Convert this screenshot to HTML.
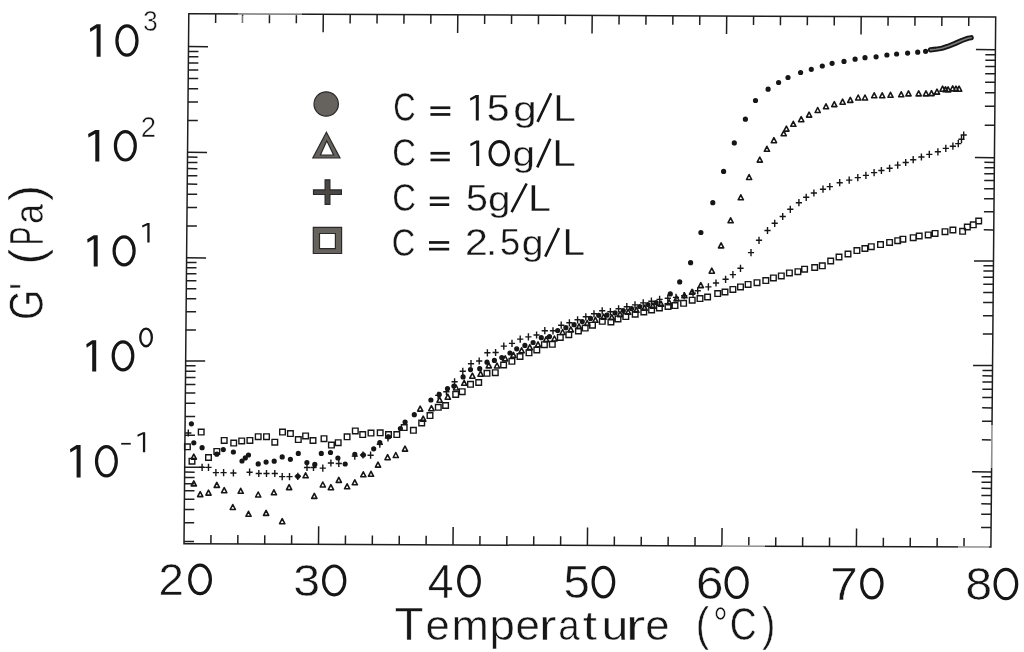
<!DOCTYPE html>
<html><head><meta charset="utf-8"><style>
html,body{margin:0;padding:0;background:#fff;width:1024px;height:652px;overflow:hidden}
svg{display:block;filter:blur(0.35px)}
text{font-family:"Liberation Sans",sans-serif}
</style></head><body>
<svg width="1024" height="652" viewBox="0 0 1024 652">
<rect width="1024" height="652" fill="#fff"/>
<g transform="matrix(1 0.00409 -0.00906 1 188.8 13.8)" stroke="#1e1e1e" stroke-width="1.5" fill="none" stroke-linecap="butt">
<rect x="0" y="0" width="806.9" height="530.0"/>
<path d="M0 527.7H10M0 509.0H10M806.9 510.4H796.9M0 495.7H10M806.9 497.1H796.9M0 485.4H10M806.9 486.8H796.9M0 477.0H10M806.9 478.4H796.9M0 469.9H10M806.9 471.3H796.9M0 463.7H10M806.9 465.1H796.9M0 458.3H10M806.9 459.7H796.9M0 453.4H19.5M806.9 454.8H787.4M0 421.4H10M806.9 422.8H796.9M0 402.7H10M806.9 404.1H796.9M0 389.4H10M806.9 390.8H796.9M0 379.1H10M806.9 380.5H796.9M0 370.7H10M806.9 372.1H796.9M0 363.6H10M806.9 365.0H796.9M0 357.4H10M806.9 358.8H796.9M0 352.0H10M806.9 353.4H796.9M0 347.1H19.5M806.9 348.5H787.4M0 316.1H10M806.9 317.0H796.9M0 297.9H10M806.9 298.6H796.9M0 285.0H10M806.9 285.5H796.9M0 275.0H10M806.9 275.4H796.9M0 266.9H10M806.9 267.1H796.9M0 260.0H10M806.9 260.1H796.9M0 254.0H10M806.9 254.0H796.9M0 248.7H10M806.9 248.7H796.9M0 244.0H19.5M806.9 243.9H787.4M0 212.2H10M806.9 212.8H796.9M0 193.7H10M806.9 194.6H796.9M0 180.5H10M806.9 181.7H796.9M0 170.3H10M806.9 171.7H796.9M0 161.9H10M806.9 163.5H796.9M0 154.8H10M806.9 156.6H796.9M0 148.7H10M806.9 150.6H796.9M0 143.3H10M806.9 145.3H796.9M0 138.5H19.5M806.9 140.6H787.4M0 106.7H10M806.9 108.1H796.9M0 88.1H10M806.9 89.1H796.9M0 74.9H10M806.9 75.6H796.9M0 64.6H10M806.9 65.1H796.9M0 56.2H10M806.9 56.6H796.9M0 49.2H10M806.9 49.4H796.9M0 43.0H10M806.9 43.1H796.9M0 37.6H10M806.9 37.6H796.9M0 32.8H19.5M806.9 32.6H787.4M26.9 530.0V521.0M26.9 0V9M53.8 530.0V521.0M53.8 0V9M80.7 530.0V521.0M80.7 0V9M107.6 530.0V521.0M107.6 0V9M134.5 530.0V512.0M134.5 0V18M161.4 530.0V521.0M161.4 0V9M188.3 530.0V521.0M188.3 0V9M215.2 530.0V521.0M215.2 0V9M242.1 530.0V521.0M242.1 0V9M269.0 530.0V512.0M269.0 0V18M295.9 530.0V521.0M295.9 0V9M322.8 530.0V521.0M322.8 0V9M349.7 530.0V521.0M349.7 0V9M376.6 530.0V521.0M376.6 0V9M403.4 530.0V512.0M403.4 0V18M430.3 530.0V521.0M430.3 0V9M457.2 530.0V521.0M457.2 0V9M484.1 530.0V521.0M484.1 0V9M511.0 530.0V521.0M511.0 0V9M537.9 530.0V512.0M537.9 0V18M564.8 530.0V521.0M564.8 0V9M591.7 530.0V521.0M591.7 0V9M618.6 530.0V521.0M618.6 0V9M645.5 530.0V521.0M645.5 0V9M672.4 530.0V512.0M672.4 0V18M699.3 530.0V521.0M699.3 0V9M726.2 530.0V521.0M726.2 0V9M753.1 530.0V521.0M753.1 0V9M780.0 530.0V521.0M780.0 0V9" stroke-width="1.5"/>
</g>
<path d="M238 14.0L302 14.3" stroke="#fff" stroke-opacity="0.4" stroke-width="2.4"/>
<path d="M243.2 16L243.2 23" stroke="#fff" stroke-opacity="0.5" stroke-width="2"/>
<path d="M722 546.03L765 546.2M958 547.06L989 547.2M992.0 425L991.6 468" stroke="#fff" stroke-opacity="0.5" stroke-width="2.2"/>
<path d="M184.6 444.0h5.6v5.6h-5.6zM189.2 458.4h5.6v5.6h-5.6zM198.4 429.3h5.6v5.6h-5.6zM205.7 454.7h5.6v5.6h-5.6zM214.0 448.6h5.6v5.6h-5.6zM221.4 437.6h5.6v5.6h-5.6zM230.9 440.3h5.6v5.6h-5.6zM238.9 438.1h5.6v5.6h-5.6zM247.1 437.6h5.6v5.6h-5.6zM255.4 433.9h5.6v5.6h-5.6zM263.7 433.9h5.6v5.6h-5.6zM272.0 439.4h5.6v5.6h-5.6zM279.7 429.3h5.6v5.6h-5.6zM287.6 430.8h5.6v5.6h-5.6zM295.5 436.8h5.6v5.6h-5.6zM302.8 433.1h5.6v5.6h-5.6zM310.2 437.7h5.6v5.6h-5.6zM321.2 435.9h5.6v5.6h-5.6zM328.6 442.3h5.6v5.6h-5.6zM335.4 439.9h5.6v5.6h-5.6zM344.3 434.0h5.6v5.6h-5.6zM352.5 428.1h5.6v5.6h-5.6zM359.9 431.8h5.6v5.6h-5.6zM368.2 430.3h5.6v5.6h-5.6zM377.4 430.0h5.6v5.6h-5.6zM385.7 431.8h5.6v5.6h-5.6zM394.0 431.8h5.6v5.6h-5.6zM401.4 424.8h5.6v5.6h-5.6zM410.6 427.5h5.6v5.6h-5.6zM418.9 420.2h5.6v5.6h-5.6zM427.2 412.8h5.6v5.6h-5.6zM435.5 404.5h5.6v5.6h-5.6zM442.8 402.7h5.6v5.6h-5.6zM452.9 391.6h5.6v5.6h-5.6zM459.4 388.9h5.6v5.6h-5.6zM467.7 381.5h5.6v5.6h-5.6zM475.9 379.7h5.6v5.6h-5.6zM484.2 370.5h5.6v5.6h-5.6zM492.5 369.9h5.6v5.6h-5.6zM500.8 362.2h5.6v5.6h-5.6zM509.1 358.5h5.6v5.6h-5.6zM517.2 353.7h5.6v5.6h-5.6zM526.2 350.0h5.6v5.6h-5.6zM534.0 347.2h5.6v5.6h-5.6zM541.6 341.9h5.6v5.6h-5.6zM549.5 341.5h5.6v5.6h-5.6zM557.5 334.6h5.6v5.6h-5.6zM566.0 331.9h5.6v5.6h-5.6zM575.6 328.1h5.6v5.6h-5.6zM582.4 325.3h5.6v5.6h-5.6zM589.7 322.4h5.6v5.6h-5.6zM599.5 318.5h5.6v5.6h-5.6zM608.1 319.2h5.6v5.6h-5.6zM615.2 316.1h5.6v5.6h-5.6zM623.0 313.8h5.6v5.6h-5.6zM632.4 311.4h5.6v5.6h-5.6zM641.0 309.1h5.6v5.6h-5.6zM648.8 307.2h5.6v5.6h-5.6zM656.6 305.2h5.6v5.6h-5.6zM665.2 303.6h5.6v5.6h-5.6zM672.2 302.8h5.6v5.6h-5.6zM680.8 300.5h5.6v5.6h-5.6zM689.4 297.4h5.6v5.6h-5.6zM697.2 295.8h5.6v5.6h-5.6zM704.8 294.2h5.6v5.6h-5.6zM714.9 290.8h5.6v5.6h-5.6zM722.2 289.2h5.6v5.6h-5.6zM730.1 286.6h5.6v5.6h-5.6zM737.7 284.1h5.6v5.6h-5.6zM745.3 281.6h5.6v5.6h-5.6zM754.2 279.9h5.6v5.6h-5.6zM763.0 277.8h5.6v5.6h-5.6zM770.6 275.1h5.6v5.6h-5.6zM778.5 273.1h5.6v5.6h-5.6zM786.6 270.1h5.6v5.6h-5.6zM795.1 268.9h5.6v5.6h-5.6zM801.8 266.4h5.6v5.6h-5.6zM811.9 264.7h5.6v5.6h-5.6zM819.5 263.0h5.6v5.6h-5.6zM827.9 258.2h5.6v5.6h-5.6zM836.2 254.2h5.6v5.6h-5.6zM845.2 251.2h5.6v5.6h-5.6zM854.1 247.8h5.6v5.6h-5.6zM862.1 245.7h5.6v5.6h-5.6zM868.5 243.9h5.6v5.6h-5.6zM877.7 241.8h5.6v5.6h-5.6zM886.8 239.6h5.6v5.6h-5.6zM894.9 237.9h5.6v5.6h-5.6zM900.1 236.4h5.6v5.6h-5.6zM910.4 234.9h5.6v5.6h-5.6zM916.4 233.2h5.6v5.6h-5.6zM925.4 232.1h5.6v5.6h-5.6zM932.3 230.6h5.6v5.6h-5.6zM942.2 228.9h5.6v5.6h-5.6zM950.1 227.2h5.6v5.6h-5.6zM959.8 228.5h5.6v5.6h-5.6zM964.5 224.2h5.6v5.6h-5.6zM970.5 222.0h5.6v5.6h-5.6zM975.9 218.2h5.6v5.6h-5.6z" fill="none" stroke="#161616" stroke-width="1.4"/>
<path d="M193.8 454.1l2.6 5.0h-5.2zM193.8 480.9l2.6 5.0h-5.2zM200.2 491.6l2.6 5.0h-5.2zM208.5 490.1l2.6 5.0h-5.2zM216.8 482.4l2.6 5.0h-5.2zM224.2 487.7l2.6 5.0h-5.2zM232.8 504.5l2.6 5.0h-5.2zM240.7 488.3l2.6 5.0h-5.2zM248.5 511.3l2.6 5.0h-5.2zM258.2 492.0l2.6 5.0h-5.2zM266.1 510.4l2.6 5.0h-5.2zM273.9 489.8l2.6 5.0h-5.2zM282.2 518.7l2.6 5.0h-5.2zM289.1 484.6l2.6 5.0h-5.2zM305.6 472.8l2.6 5.0h-5.2zM314.3 493.4l2.6 5.0h-5.2zM322.8 482.0l2.6 5.0h-5.2zM330.9 484.7l2.6 5.0h-5.2zM338.8 477.4l2.6 5.0h-5.2zM347.1 483.8l2.6 5.0h-5.2zM354.8 479.8l2.6 5.0h-5.2zM363.3 471.8l2.6 5.0h-5.2zM371.0 471.3l2.6 5.0h-5.2zM378.0 462.1l2.6 5.0h-5.2zM387.6 454.7l2.6 5.0h-5.2zM395.8 452.5l2.6 5.0h-5.2zM405.0 446.1l2.6 5.0h-5.2zM420.2 406.1l2.6 5.0h-5.2zM423.2 416.2l2.6 5.0h-5.2zM431.4 405.7l2.6 5.0h-5.2zM439.6 397.2l2.6 5.0h-5.2zM447.8 394.2l2.6 5.0h-5.2zM456.0 385.0l2.6 5.0h-5.2zM464.2 380.3l2.6 5.0h-5.2zM472.4 373.2l2.6 5.0h-5.2zM480.6 371.2l2.6 5.0h-5.2zM488.8 362.9l2.6 5.0h-5.2zM497.0 363.0l2.6 5.0h-5.2zM505.2 355.9l2.6 5.0h-5.2zM513.4 352.4l2.6 5.0h-5.2zM521.6 347.8l2.6 5.0h-5.2zM529.8 344.6l2.6 5.0h-5.2zM538.0 341.9l2.6 5.0h-5.2zM546.2 336.6l2.6 5.0h-5.2zM554.4 336.0l2.6 5.0h-5.2zM562.6 329.5l2.6 5.0h-5.2zM570.8 326.9l2.6 5.0h-5.2zM579.0 323.8l2.6 5.0h-5.2zM587.2 320.5l2.6 5.0h-5.2zM595.4 317.3l2.6 5.0h-5.2zM603.6 314.1l2.6 5.0h-5.2zM611.8 314.7l2.6 5.0h-5.2zM620.0 311.6l2.6 5.0h-5.2zM628.2 309.3l2.6 5.0h-5.2zM636.4 307.3l2.6 5.0h-5.2zM644.6 305.2l2.6 5.0h-5.2zM652.8 303.2l2.6 5.0h-5.2zM661.0 301.2l2.6 5.0h-5.2zM669.2 299.8l2.6 5.0h-5.2zM676.6 295.9l2.6 5.0h-5.2zM684.4 292.8l2.6 5.0h-5.2zM692.0 289.3l2.6 5.0h-5.2zM700.8 282.6l2.6 5.0h-5.2zM711.8 268.2l2.6 5.0h-5.2zM721.1 242.9l2.6 5.0h-5.2zM730.6 217.8l2.6 5.0h-5.2zM740.8 194.8l2.6 5.0h-5.2zM749.1 174.5l2.6 5.0h-5.2zM759.8 157.1l2.6 5.0h-5.2zM766.9 146.3l2.6 5.0h-5.2zM773.9 137.7l2.6 5.0h-5.2zM783.7 130.8l2.6 5.0h-5.2zM786.4 126.1l2.6 5.0h-5.2zM793.3 121.3l2.6 5.0h-5.2zM801.2 116.7l2.6 5.0h-5.2zM809.1 112.1l2.6 5.0h-5.2zM817.7 107.5l2.6 5.0h-5.2zM826.0 103.8l2.6 5.0h-5.2zM834.3 101.6l2.6 5.0h-5.2zM842.6 99.2l2.6 5.0h-5.2zM850.3 97.4l2.6 5.0h-5.2zM858.2 95.0l2.6 5.0h-5.2zM865.0 95.0l2.6 5.0h-5.2zM874.2 92.8l2.6 5.0h-5.2zM882.2 92.8l2.6 5.0h-5.2zM890.5 92.3l2.6 5.0h-5.2zM901.2 91.8l2.6 5.0h-5.2zM908.5 90.9l2.6 5.0h-5.2zM918.7 90.9l2.6 5.0h-5.2zM926.0 90.9l2.6 5.0h-5.2zM931.5 90.6l2.6 5.0h-5.2zM937.0 89.1l2.6 5.0h-5.2zM942.6 86.2l2.6 5.0h-5.2zM945.5 86.8l2.6 5.0h-5.2zM948.1 86.9l2.6 5.0h-5.2zM952.7 85.9l2.6 5.0h-5.2zM956.0 86.1l2.6 5.0h-5.2zM959.1 86.2l2.6 5.0h-5.2z" fill="none" stroke="#161616" stroke-width="1.6" stroke-linejoin="round"/>
<path d="M185.2 433.0h6.2M188.3 429.4v7.2M199.0 467.4h6.2M202.1 463.8v7.2M205.4 467.4h6.2M208.5 463.8v7.2M212.8 472.6h6.2M215.9 469.0v7.2M220.5 472.6h6.2M223.6 469.0v7.2M230.3 473.0h6.2M233.4 469.4v7.2M246.5 472.2h6.2M249.6 468.6v7.2M255.7 473.5h6.2M258.8 469.9v7.2M263.4 473.5h6.2M266.5 469.9v7.2M271.7 473.5h6.2M274.8 469.9v7.2M279.1 476.6h6.2M282.2 473.0v7.2M286.4 476.6h6.2M289.5 473.0v7.2M294.7 476.3h6.2M297.8 472.7v7.2M303.9 467.5h6.2M307.0 463.9v7.2M310.4 467.5h6.2M313.5 463.9v7.2M319.7 468.1h6.2M322.8 464.5v7.2M327.8 463.0h6.2M330.9 459.4v7.2M335.7 463.5h6.2M338.8 459.9v7.2M351.7 456.1h6.2M354.8 452.5v7.2M359.9 455.0h6.2M363.0 451.4v7.2M367.5 455.2h6.2M370.6 451.6v7.2M376.7 444.2h6.2M379.8 440.6v7.2M384.9 438.0h6.2M388.0 434.4v7.2M435.1 395.4h6.2M438.2 391.8v7.2M443.3 391.7h6.2M446.4 388.1v7.2M451.5 381.8h6.2M454.6 378.2v7.2M459.7 371.3h6.2M462.8 367.7v7.2M467.9 363.7h6.2M471.0 360.1v7.2M476.1 361.0h6.2M479.2 357.4v7.2M484.3 352.8h6.2M487.4 349.2v7.2M492.5 352.5h6.2M495.6 348.9v7.2M500.7 346.1h6.2M503.8 342.5v7.2M508.9 343.4h6.2M512.0 339.8v7.2M517.1 339.1h6.2M520.2 335.5v7.2M525.3 336.9h6.2M528.4 333.3v7.2M533.5 335.0h6.2M536.6 331.4v7.2M541.7 330.7h6.2M544.8 327.1v7.2M549.9 330.8h6.2M553.0 327.2v7.2M558.1 325.2h6.2M561.2 321.6v7.2M566.3 322.8h6.2M569.4 319.2v7.2M574.5 319.8h6.2M577.6 316.2v7.2M582.7 316.8h6.2M585.8 313.2v7.2M590.9 313.8h6.2M594.0 310.2v7.2M599.1 310.8h6.2M602.2 307.2v7.2M607.3 311.7h6.2M610.4 308.1v7.2M615.5 308.8h6.2M618.6 305.2v7.2M623.7 306.7h6.2M626.8 303.1v7.2M631.9 304.9h6.2M635.0 301.3v7.2M640.1 302.9h6.2M643.2 299.3v7.2M648.3 301.2h6.2M651.4 297.6v7.2M656.5 299.4h6.2M659.6 295.8v7.2M664.7 298.2h6.2M667.8 294.6v7.2M672.9 297.4h6.2M676.0 293.8v7.2M681.1 295.7h6.2M684.2 292.1v7.2M689.9 293.1h6.2M693.0 289.5v7.2M694.6 290.8h6.2M697.7 287.2v7.2M705.3 286.9h6.2M708.4 283.3v7.2M712.9 283.0h6.2M716.0 279.4v7.2M722.5 279.3h6.2M725.6 275.7v7.2M729.8 274.6h6.2M732.9 271.0v7.2M737.4 268.3h6.2M740.5 264.7v7.2M747.9 252.6h6.2M751.0 249.0v7.2M755.9 240.3h6.2M759.0 236.7v7.2M764.4 230.5h6.2M767.5 226.9v7.2M771.6 223.3h6.2M774.7 219.7v7.2M779.6 216.5h6.2M782.7 212.9v7.2M787.2 209.3h6.2M790.3 205.7v7.2M795.8 202.7h6.2M798.9 199.1v7.2M803.1 197.3h6.2M806.2 193.7v7.2M810.8 193.0h6.2M813.9 189.4v7.2M819.9 189.2h6.2M823.0 185.6v7.2M826.7 186.6h6.2M829.8 183.0v7.2M836.6 182.7h6.2M839.7 179.1v7.2M846.1 180.1h6.2M849.2 176.5v7.2M854.7 177.6h6.2M857.8 174.0v7.2M862.8 175.4h6.2M865.9 171.8v7.2M871.0 172.6h6.2M874.1 169.0v7.2M878.3 170.5h6.2M881.4 166.9v7.2M886.5 168.3h6.2M889.6 164.7v7.2M894.6 165.1h6.2M897.7 161.5v7.2M902.6 162.5h6.2M905.7 158.9v7.2M910.1 159.7h6.2M913.2 156.1v7.2M918.3 157.0h6.2M921.4 153.4v7.2M926.2 154.4h6.2M929.3 150.8v7.2M934.8 151.8h6.2M937.9 148.2v7.2M942.7 148.4h6.2M945.8 144.8v7.2M949.8 146.2h6.2M952.9 142.6v7.2M955.2 143.6h6.2M958.3 140.0v7.2M958.4 139.3h6.2M961.5 135.7v7.2M960.6 135.0h6.2M963.7 131.4v7.2" fill="none" stroke="#161616" stroke-width="1.4"/>
<path d="M188.8 423.8a2.6 2.6 0 1 0 5.2 0a2.6 2.6 0 1 0 -5.2 0zM191.2 442.8a2.6 2.6 0 1 0 5.2 0a2.6 2.6 0 1 0 -5.2 0zM199.5 447.7a2.6 2.6 0 1 0 5.2 0a2.6 2.6 0 1 0 -5.2 0zM214.2 454.2a2.6 2.6 0 1 0 5.2 0a2.6 2.6 0 1 0 -5.2 0zM220.7 449.6a2.6 2.6 0 1 0 5.2 0a2.6 2.6 0 1 0 -5.2 0zM230.8 452.0a2.6 2.6 0 1 0 5.2 0a2.6 2.6 0 1 0 -5.2 0zM239.4 461.0a2.6 2.6 0 1 0 5.2 0a2.6 2.6 0 1 0 -5.2 0zM242.7 457.9a2.6 2.6 0 1 0 5.2 0a2.6 2.6 0 1 0 -5.2 0zM245.9 455.0a2.6 2.6 0 1 0 5.2 0a2.6 2.6 0 1 0 -5.2 0zM255.6 463.9a2.6 2.6 0 1 0 5.2 0a2.6 2.6 0 1 0 -5.2 0zM263.5 462.1a2.6 2.6 0 1 0 5.2 0a2.6 2.6 0 1 0 -5.2 0zM271.6 461.2a2.6 2.6 0 1 0 5.2 0a2.6 2.6 0 1 0 -5.2 0zM279.6 456.9a2.6 2.6 0 1 0 5.2 0a2.6 2.6 0 1 0 -5.2 0zM287.8 459.3a2.6 2.6 0 1 0 5.2 0a2.6 2.6 0 1 0 -5.2 0zM295.2 476.3a2.6 2.6 0 1 0 5.2 0a2.6 2.6 0 1 0 -5.2 0zM295.7 453.4a2.6 2.6 0 1 0 5.2 0a2.6 2.6 0 1 0 -5.2 0zM304.3 462.6a2.6 2.6 0 1 0 5.2 0a2.6 2.6 0 1 0 -5.2 0zM312.2 464.4a2.6 2.6 0 1 0 5.2 0a2.6 2.6 0 1 0 -5.2 0zM318.7 453.4a2.6 2.6 0 1 0 5.2 0a2.6 2.6 0 1 0 -5.2 0zM327.9 452.5a2.6 2.6 0 1 0 5.2 0a2.6 2.6 0 1 0 -5.2 0zM335.3 458.0a2.6 2.6 0 1 0 5.2 0a2.6 2.6 0 1 0 -5.2 0zM342.6 464.0a2.6 2.6 0 1 0 5.2 0a2.6 2.6 0 1 0 -5.2 0zM352.2 454.3a2.6 2.6 0 1 0 5.2 0a2.6 2.6 0 1 0 -5.2 0zM360.7 454.9a2.6 2.6 0 1 0 5.2 0a2.6 2.6 0 1 0 -5.2 0zM371.1 448.8a2.6 2.6 0 1 0 5.2 0a2.6 2.6 0 1 0 -5.2 0zM377.2 442.7a2.6 2.6 0 1 0 5.2 0a2.6 2.6 0 1 0 -5.2 0zM385.9 436.8a2.6 2.6 0 1 0 5.2 0a2.6 2.6 0 1 0 -5.2 0zM397.8 428.5a2.6 2.6 0 1 0 5.2 0a2.6 2.6 0 1 0 -5.2 0zM402.5 422.0a2.6 2.6 0 1 0 5.2 0a2.6 2.6 0 1 0 -5.2 0zM411.7 414.7a2.6 2.6 0 1 0 5.2 0a2.6 2.6 0 1 0 -5.2 0zM428.3 400.0a2.6 2.6 0 1 0 5.2 0a2.6 2.6 0 1 0 -5.2 0zM436.6 394.4a2.6 2.6 0 1 0 5.2 0a2.6 2.6 0 1 0 -5.2 0zM444.9 388.5a2.6 2.6 0 1 0 5.2 0a2.6 2.6 0 1 0 -5.2 0zM451.3 386.1a2.6 2.6 0 1 0 5.2 0a2.6 2.6 0 1 0 -5.2 0zM460.5 376.9a2.6 2.6 0 1 0 5.2 0a2.6 2.6 0 1 0 -5.2 0zM467.9 369.6a2.6 2.6 0 1 0 5.2 0a2.6 2.6 0 1 0 -5.2 0zM477.1 368.7a2.6 2.6 0 1 0 5.2 0a2.6 2.6 0 1 0 -5.2 0zM484.4 362.2a2.6 2.6 0 1 0 5.2 0a2.6 2.6 0 1 0 -5.2 0zM491.8 360.4a2.6 2.6 0 1 0 5.2 0a2.6 2.6 0 1 0 -5.2 0zM499.2 357.6a2.6 2.6 0 1 0 5.2 0a2.6 2.6 0 1 0 -5.2 0zM507.4 353.0a2.6 2.6 0 1 0 5.2 0a2.6 2.6 0 1 0 -5.2 0zM514.1 348.8a2.6 2.6 0 1 0 5.2 0a2.6 2.6 0 1 0 -5.2 0zM522.3 345.4a2.6 2.6 0 1 0 5.2 0a2.6 2.6 0 1 0 -5.2 0zM530.5 342.5a2.6 2.6 0 1 0 5.2 0a2.6 2.6 0 1 0 -5.2 0zM538.7 337.7a2.6 2.6 0 1 0 5.2 0a2.6 2.6 0 1 0 -5.2 0zM546.9 336.6a2.6 2.6 0 1 0 5.2 0a2.6 2.6 0 1 0 -5.2 0zM555.1 330.6a2.6 2.6 0 1 0 5.2 0a2.6 2.6 0 1 0 -5.2 0zM563.3 327.7a2.6 2.6 0 1 0 5.2 0a2.6 2.6 0 1 0 -5.2 0zM571.5 324.7a2.6 2.6 0 1 0 5.2 0a2.6 2.6 0 1 0 -5.2 0zM579.7 321.5a2.6 2.6 0 1 0 5.2 0a2.6 2.6 0 1 0 -5.2 0zM587.9 318.4a2.6 2.6 0 1 0 5.2 0a2.6 2.6 0 1 0 -5.2 0zM596.1 315.3a2.6 2.6 0 1 0 5.2 0a2.6 2.6 0 1 0 -5.2 0zM604.3 315.2a2.6 2.6 0 1 0 5.2 0a2.6 2.6 0 1 0 -5.2 0zM612.5 312.9a2.6 2.6 0 1 0 5.2 0a2.6 2.6 0 1 0 -5.2 0zM620.7 310.5a2.6 2.6 0 1 0 5.2 0a2.6 2.6 0 1 0 -5.2 0zM628.9 308.5a2.6 2.6 0 1 0 5.2 0a2.6 2.6 0 1 0 -5.2 0zM637.1 306.5a2.6 2.6 0 1 0 5.2 0a2.6 2.6 0 1 0 -5.2 0zM645.3 304.6a2.6 2.6 0 1 0 5.2 0a2.6 2.6 0 1 0 -5.2 0zM653.5 302.7a2.6 2.6 0 1 0 5.2 0a2.6 2.6 0 1 0 -5.2 0zM667.7 293.9a2.6 2.6 0 1 0 5.2 0a2.6 2.6 0 1 0 -5.2 0zM677.1 281.9a2.6 2.6 0 1 0 5.2 0a2.6 2.6 0 1 0 -5.2 0zM688.0 262.7a2.6 2.6 0 1 0 5.2 0a2.6 2.6 0 1 0 -5.2 0zM698.3 232.5a2.6 2.6 0 1 0 5.2 0a2.6 2.6 0 1 0 -5.2 0zM710.2 202.7a2.6 2.6 0 1 0 5.2 0a2.6 2.6 0 1 0 -5.2 0zM721.0 171.4a2.6 2.6 0 1 0 5.2 0a2.6 2.6 0 1 0 -5.2 0zM731.7 142.9a2.6 2.6 0 1 0 5.2 0a2.6 2.6 0 1 0 -5.2 0zM742.8 119.2a2.6 2.6 0 1 0 5.2 0a2.6 2.6 0 1 0 -5.2 0zM752.9 100.5a2.6 2.6 0 1 0 5.2 0a2.6 2.6 0 1 0 -5.2 0zM765.5 89.2a2.6 2.6 0 1 0 5.2 0a2.6 2.6 0 1 0 -5.2 0zM776.0 82.5a2.6 2.6 0 1 0 5.2 0a2.6 2.6 0 1 0 -5.2 0zM785.4 77.5a2.6 2.6 0 1 0 5.2 0a2.6 2.6 0 1 0 -5.2 0zM798.0 72.5a2.6 2.6 0 1 0 5.2 0a2.6 2.6 0 1 0 -5.2 0zM808.7 69.3a2.6 2.6 0 1 0 5.2 0a2.6 2.6 0 1 0 -5.2 0zM819.7 66.0a2.6 2.6 0 1 0 5.2 0a2.6 2.6 0 1 0 -5.2 0zM829.5 63.3a2.6 2.6 0 1 0 5.2 0a2.6 2.6 0 1 0 -5.2 0zM841.4 61.4a2.6 2.6 0 1 0 5.2 0a2.6 2.6 0 1 0 -5.2 0zM852.5 59.2a2.6 2.6 0 1 0 5.2 0a2.6 2.6 0 1 0 -5.2 0zM862.4 57.7a2.6 2.6 0 1 0 5.2 0a2.6 2.6 0 1 0 -5.2 0zM873.5 56.8a2.6 2.6 0 1 0 5.2 0a2.6 2.6 0 1 0 -5.2 0zM884.3 55.0a2.6 2.6 0 1 0 5.2 0a2.6 2.6 0 1 0 -5.2 0zM894.0 54.0a2.6 2.6 0 1 0 5.2 0a2.6 2.6 0 1 0 -5.2 0zM905.0 53.1a2.6 2.6 0 1 0 5.2 0a2.6 2.6 0 1 0 -5.2 0zM915.1 52.2a2.6 2.6 0 1 0 5.2 0a2.6 2.6 0 1 0 -5.2 0zM923.0 51.3a2.6 2.6 0 1 0 5.2 0a2.6 2.6 0 1 0 -5.2 0z" fill="#161616"/>
<path d="M930.5 49.9L936 49.2L942 48.3L948 46.3L955 43.5L962 40.4L968 38.2L971.2 37.7" fill="none" stroke="#161616" stroke-width="5.2" stroke-linecap="round" stroke-linejoin="round"/>
<path d="M930.5 49.9L936 49.2L942 48.3L948 46.3L955 43.5L962 40.4L968 38.2L971.2 37.7" fill="none" stroke="#7a7a7a" stroke-width="1.6" stroke-linecap="round" stroke-linejoin="round"/>
<g stroke="#2a2a2a" stroke-width="1.2">
<circle cx="326.2" cy="104.0" r="12.2" fill="#66625e"/>
<path d="M326.4 132.2 L340 158 L312.8 158 Z M326.8 140.8 L320.4 155.0 L333.6 155.0 Z" fill="#66625e" fill-rule="evenodd"/>
<path d="M325.1 179.8 H329.9 V189.9 H341.4 V194.5 H329.9 V204.4 H325.1 V194.5 H313.5 V189.9 H325.1 Z" fill="#4a4744"/>
<path d="M313.3 227.3 H341.6 V253.5 H313.3 Z M319.5 233.5 V248.7 H335.4 V233.5 Z" fill="#66625e" fill-rule="evenodd"/>
</g>
<g font-family="Liberation Sans" fill="#161616" font-size="100">
<path d="M96.60 24.30H100.60V56.80H96.60V28.04L90.30 31.93L89.90 28.53Z" fill="#161616"/>
<ellipse cx="126.95" cy="40.55" rx="10.05" ry="14.65" fill="none" stroke="#161616" stroke-width="3.20"/>
<text transform="matrix(0.2658 0 0 0.3037 142.89 31.40)" stroke="#fff" stroke-width="1.76" stroke-linejoin="round">3</text>
<path d="M95.30 130.00H99.30V161.60H95.30V133.74L88.50 137.51L88.10 134.11Z" fill="#161616"/>
<ellipse cx="125.35" cy="145.80" rx="9.95" ry="14.20" fill="none" stroke="#161616" stroke-width="3.20"/>
<text transform="matrix(0.2766 0 0 0.2993 140.71 137.20)" stroke="#fff" stroke-width="1.74" stroke-linejoin="round">2</text>
<path d="M93.70 235.30H97.70V266.50H93.70V239.04L87.60 242.76L87.20 239.36Z" fill="#161616"/>
<ellipse cx="124.10" cy="250.90" rx="10.00" ry="14.00" fill="none" stroke="#161616" stroke-width="3.20"/>
<path d="M147.30 223.00H149.60V242.40H147.30V225.15L142.40 227.48L142.00 225.52Z" fill="#161616"/>
<path d="M92.20 340.20H96.20V371.50H92.20V343.94L86.70 347.67L86.30 344.27Z" fill="#161616"/>
<ellipse cx="123.00" cy="355.85" rx="9.80" ry="14.05" fill="none" stroke="#161616" stroke-width="3.20"/>
<ellipse cx="146.05" cy="337.40" rx="5.80" ry="8.85" fill="none" stroke="#161616" stroke-width="2.30"/>
<path d="M76.60 445.00H80.60V477.40H76.60V448.74L70.40 452.61L70.00 449.21Z" fill="#161616"/>
<ellipse cx="106.40" cy="461.20" rx="9.90" ry="14.60" fill="none" stroke="#161616" stroke-width="3.20"/>
<rect x="121.2" y="442.9" width="9.55" height="1.70" fill="#161616"/>
<path d="M142.90 432.20H145.20V452.20H142.90V434.35L137.70 436.75L137.30 434.80Z" fill="#161616"/>
<text transform="matrix(0.4566 0 0 0.4526 158.60 595.20)" stroke="#fff" stroke-width="1.10" stroke-linejoin="round">2</text>
<ellipse cx="200.05" cy="579.40" rx="10.35" ry="14.20" fill="none" stroke="#161616" stroke-width="3.20"/>
<text transform="matrix(0.4830 0 0 0.4520 293.36 595.96)" stroke="#fff" stroke-width="1.07" stroke-linejoin="round">3</text>
<ellipse cx="334.20" cy="580.40" rx="10.60" ry="14.40" fill="none" stroke="#161616" stroke-width="3.20"/>
<text transform="matrix(0.4644 0 0 0.4768 427.73 597.60)" stroke="#fff" stroke-width="1.06" stroke-linejoin="round">4</text>
<ellipse cx="469.00" cy="581.20" rx="10.30" ry="14.80" fill="none" stroke="#161616" stroke-width="3.20"/>
<text transform="matrix(0.4746 0 0 0.4686 563.60 597.94)" stroke="#fff" stroke-width="1.06" stroke-linejoin="round">5</text>
<ellipse cx="603.40" cy="582.05" rx="10.30" ry="14.75" fill="none" stroke="#161616" stroke-width="3.20"/>
<text transform="matrix(0.4941 0 0 0.4619 696.09 598.55)" stroke="#fff" stroke-width="1.05" stroke-linejoin="round">6</text>
<ellipse cx="736.62" cy="582.65" rx="10.53" ry="14.75" fill="none" stroke="#161616" stroke-width="3.20"/>
<text transform="matrix(0.4939 0 0 0.4622 830.27 599.50)" stroke="#fff" stroke-width="1.05" stroke-linejoin="round">7</text>
<ellipse cx="871.85" cy="583.60" rx="10.15" ry="14.30" fill="none" stroke="#161616" stroke-width="3.20"/>
<text transform="matrix(0.4774 0 0 0.4604 965.53 599.85)" stroke="#fff" stroke-width="1.07" stroke-linejoin="round">8</text>
<ellipse cx="1005.90" cy="584.00" rx="10.80" ry="14.70" fill="none" stroke="#161616" stroke-width="3.20"/>
<text transform="matrix(0.4757 0 0 0.4535 394.53 640.00)" stroke="#fff" stroke-width="1.08" stroke-linejoin="round">T</text>
<text transform="matrix(0.4369 0 0 0.4163 425.54 640.00)" stroke="#fff" stroke-width="1.17" stroke-linejoin="round">e</text>
<text transform="matrix(0.4481 0 0 0.4163 451.52 640.00)" stroke="#fff" stroke-width="1.16" stroke-linejoin="round">m</text>
<text transform="matrix(0.4559 0 0 0.4167 489.56 640.00)" stroke="#fff" stroke-width="1.15" stroke-linejoin="round">p</text>
<text transform="matrix(0.4390 0 0 0.4163 515.54 640.00)" stroke="#fff" stroke-width="1.17" stroke-linejoin="round">e</text>
<text transform="matrix(0.5240 0 0 0.4163 539.02 640.00)" stroke="#fff" stroke-width="1.06" stroke-linejoin="round">r</text>
<text transform="matrix(0.3855 0 0 0.4163 558.36 640.00)" stroke="#fff" stroke-width="1.25" stroke-linejoin="round">a</text>
<text transform="matrix(0.5130 0 0 0.4037 582.72 640.00)" stroke="#fff" stroke-width="1.09" stroke-linejoin="round">t</text>
<text transform="matrix(0.4826 0 0 0.4126 601.57 640.00)" stroke="#fff" stroke-width="1.12" stroke-linejoin="round">u</text>
<text transform="matrix(0.5860 0 0 0.4163 625.71 640.00)" stroke="#fff" stroke-width="1.00" stroke-linejoin="round">r</text>
<text transform="matrix(0.4369 0 0 0.4163 645.34 640.00)" stroke="#fff" stroke-width="1.17" stroke-linejoin="round">e</text>
<text transform="matrix(0.4036 0 0 0.4535 695.80 640.00)" stroke="#fff" stroke-width="1.17" stroke-linejoin="round">(</text>
<text transform="matrix(0.3639 0 0 0.4535 713.23 640.00)" stroke="#fff" stroke-width="1.22" stroke-linejoin="round">°</text>
<text transform="matrix(0.3727 0 0 0.4535 729.71 640.00)" stroke="#fff" stroke-width="1.21" stroke-linejoin="round">C</text>
<text transform="matrix(0.4036 0 0 0.4535 761.96 640.00)" stroke="#fff" stroke-width="1.17" stroke-linejoin="round">)</text>
<text transform="matrix(0.3095 0 0 0.3983 393.33 120.81)" stroke="#fff" stroke-width="0.99" stroke-linejoin="round">C</text>
<rect x="430.4" y="106.40" width="19.90" height="2.7" fill="#161616"/>
<rect x="430.4" y="113.10" width="19.90" height="2.7" fill="#161616"/>
<path d="M475.80 94.90H478.80V120.60H475.80V97.70L470.40 100.79L470.00 98.24Z" fill="#161616"/>
<text transform="matrix(0.4113 0 0 0.3736 486.85 120.60)" stroke="#fff" stroke-width="0.89" stroke-linejoin="round">5</text>
<text transform="matrix(0.4225 0 0 0.3578 513.23 120.60)" stroke="#fff" stroke-width="0.90" stroke-linejoin="round">g</text>
<path d="M537.56 121.90L551.14 93.30" stroke="#161616" stroke-width="2.6" fill="none"/>
<text transform="matrix(0.4060 0 0 0.3736 553.27 120.60)" stroke="#fff" stroke-width="0.90" stroke-linejoin="round">L</text>
<text transform="matrix(0.3284 0 0 0.3912 392.33 166.32)" stroke="#fff" stroke-width="0.97" stroke-linejoin="round">C</text>
<rect x="430.5" y="151.90" width="19.30" height="2.7" fill="#161616"/>
<rect x="430.5" y="158.60" width="19.30" height="2.7" fill="#161616"/>
<path d="M476.20 140.40H479.20V166.10H476.20V143.21L470.60 146.29L470.20 143.74Z" fill="#161616"/>
<ellipse cx="499.25" cy="153.25" rx="9.30" ry="11.80" fill="none" stroke="#161616" stroke-width="2.90"/>
<text transform="matrix(0.4047 0 0 0.3578 512.60 166.10)" stroke="#fff" stroke-width="0.92" stroke-linejoin="round">g</text>
<path d="M537.26 167.40L550.34 138.80" stroke="#161616" stroke-width="2.6" fill="none"/>
<text transform="matrix(0.4241 0 0 0.3736 552.22 166.10)" stroke="#fff" stroke-width="0.88" stroke-linejoin="round">L</text>
<text transform="matrix(0.3284 0 0 0.3856 392.33 211.02)" stroke="#fff" stroke-width="0.98" stroke-linejoin="round">C</text>
<rect x="429.8" y="196.60" width="19.40" height="2.7" fill="#161616"/>
<rect x="429.8" y="203.30" width="19.40" height="2.7" fill="#161616"/>
<text transform="matrix(0.3944 0 0 0.3736 466.02 210.80)" stroke="#fff" stroke-width="0.91" stroke-linejoin="round">5</text>
<text transform="matrix(0.4047 0 0 0.3578 487.90 210.80)" stroke="#fff" stroke-width="0.92" stroke-linejoin="round">g</text>
<path d="M511.56 212.10L526.64 183.50" stroke="#161616" stroke-width="2.6" fill="none"/>
<text transform="matrix(0.4128 0 0 0.3736 528.11 210.80)" stroke="#fff" stroke-width="0.89" stroke-linejoin="round">L</text>
<text transform="matrix(0.3253 0 0 0.3898 391.65 255.52)" stroke="#fff" stroke-width="0.98" stroke-linejoin="round">C</text>
<rect x="429.0" y="241.10" width="20.20" height="2.7" fill="#161616"/>
<rect x="429.0" y="247.80" width="20.20" height="2.7" fill="#161616"/>
<text transform="matrix(0.4105 0 0 0.3736 464.94 255.30)" stroke="#fff" stroke-width="0.89" stroke-linejoin="round">2</text>
<text transform="matrix(0.3991 0 0 0.3736 485.96 255.30)" stroke="#fff" stroke-width="0.91" stroke-linejoin="round">.</text>
<text transform="matrix(0.3628 0 0 0.3736 499.95 255.30)" stroke="#fff" stroke-width="0.95" stroke-linejoin="round">5</text>
<text transform="matrix(0.3914 0 0 0.3578 521.86 255.30)" stroke="#fff" stroke-width="0.93" stroke-linejoin="round">g</text>
<path d="M545.26 256.60L558.94 228.00" stroke="#161616" stroke-width="2.6" fill="none"/>
<text transform="matrix(0.4060 0 0 0.3736 562.47 255.30)" stroke="#fff" stroke-width="0.90" stroke-linejoin="round">L</text>
</g>
<g font-family="Liberation Sans" fill="#161616" font-size="100" transform="rotate(-90)">
<text transform="matrix(0.3891 0 0 0.4724 -319.96 42.50)" stroke="#fff" stroke-width="1.16" stroke-linejoin="round">G</text>
<text transform="matrix(0.3784 0 0 0.4724 -289.92 42.50)" stroke="#fff" stroke-width="1.18" stroke-linejoin="round">&#39;</text>
<text transform="matrix(0.4752 0 0 0.4724 -264.55 42.50)" stroke="#fff" stroke-width="1.06" stroke-linejoin="round">(</text>
<text transform="matrix(0.2818 0 0 0.4724 -245.31 42.50)" stroke="#fff" stroke-width="1.33" stroke-linejoin="round">P</text>
<text transform="matrix(0.3602 0 0 0.4051 -224.03 42.50)" stroke="#fff" stroke-width="1.31" stroke-linejoin="round">a</text>
<text transform="matrix(0.4790 0 0 0.4724 -200.98 42.50)" stroke="#fff" stroke-width="1.05" stroke-linejoin="round">)</text>
</g>
</svg>
</body></html>
